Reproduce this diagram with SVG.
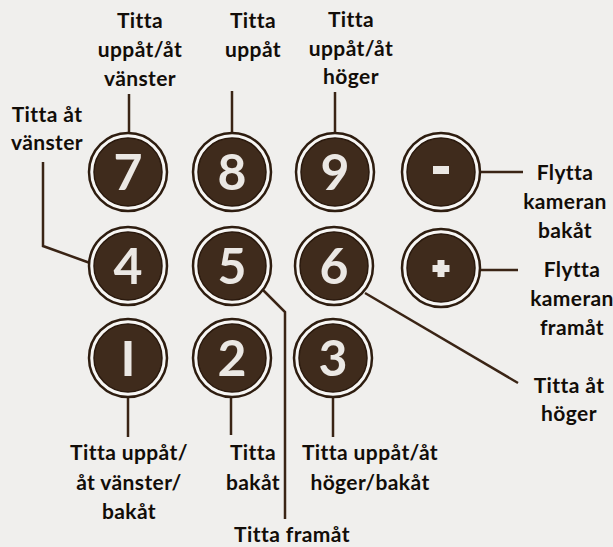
<svg xmlns="http://www.w3.org/2000/svg" width="613" height="547" viewBox="0 0 613 547">
<defs>
<style>
.bg{fill:#f0efed}
.ring{fill:#f7f6f4;stroke:#2e1d10;stroke-width:2.5}
.core{fill:#3f2b1c;stroke:#2a190d;stroke-width:1.5}
.dig{font-family:Lato,"Open Sans",sans-serif;font-weight:bold;font-size:50px;fill:#ebe8e4;text-anchor:middle}
.lbl{font-family:Lato,"Noto Sans",sans-serif;font-weight:bold;font-size:21px;fill:#120d08;text-anchor:middle;letter-spacing:0.4px}
.con{fill:none;stroke:#3a2415;stroke-width:2.5}
.sym{fill:#ebe8e4}
</style>
</defs>
<rect class="bg" x="0" y="0" width="613" height="547"/>
<g id="connectors">
<line class="con" x1="129" y1="94" x2="129" y2="133"/>
<line class="con" x1="232" y1="91" x2="232" y2="133"/>
<line class="con" x1="335" y1="92" x2="335" y2="133"/>
<polyline class="con" points="43,162 43,246 90,263"/>
<polyline class="con" points="263,290 285,312 285,519"/>
<line class="con" x1="365" y1="293" x2="518" y2="383"/>
<line class="con" x1="480" y1="172" x2="523" y2="172"/>
<line class="con" x1="480" y1="270" x2="518" y2="270"/>
<line class="con" x1="128" y1="397" x2="128" y2="437"/>
<line class="con" x1="231" y1="397" x2="231" y2="435"/>
<line class="con" x1="333" y1="397" x2="333" y2="437"/>
</g>
<g id="key7"><circle class="ring" cx="128" cy="172" r="39"/><circle class="core" cx="128" cy="172" r="34"/><text class="dig" x="128" y="190">7</text></g>
<g id="key8"><circle class="ring" cx="232" cy="172" r="39"/><circle class="core" cx="232" cy="172" r="34"/><text class="dig" x="232" y="190">8</text></g>
<g id="key9"><circle class="ring" cx="335" cy="172" r="39"/><circle class="core" cx="335" cy="172" r="34"/><text class="dig" x="335" y="190">9</text></g>
<g id="keyMinus"><circle class="ring" cx="441" cy="172" r="39"/><circle class="core" cx="441" cy="172" r="34"/><rect class="sym" x="433" y="166" width="16" height="8"/></g>
<g id="key4"><circle class="ring" cx="128" cy="266" r="39"/><circle class="core" cx="128" cy="266" r="34"/><text class="dig" x="128" y="284">4</text></g>
<g id="key5"><circle class="ring" cx="232" cy="266" r="39"/><circle class="core" cx="232" cy="266" r="34"/><text class="dig" x="232" y="284">5</text></g>
<g id="key6"><circle class="ring" cx="334" cy="266" r="39"/><circle class="core" cx="334" cy="266" r="34"/><text class="dig" x="334" y="284">6</text></g>
<g id="keyPlus"><circle class="ring" cx="441" cy="268" r="39"/><circle class="core" cx="441" cy="268" r="34"/><path class="sym" d="M437.5 260h7v5h5v7h-5v5h-7v-5h-5v-7h5z"/></g>
<g id="key1"><circle class="ring" cx="128" cy="358" r="39"/><circle class="core" cx="128" cy="358" r="34"/><rect class="sym" x="124.5" y="341" width="7" height="35"/></g>
<g id="key2"><circle class="ring" cx="232" cy="358" r="39"/><circle class="core" cx="232" cy="358" r="34"/><text class="dig" x="232" y="376">2</text></g>
<g id="key3"><circle class="ring" cx="333" cy="358" r="39"/><circle class="core" cx="333" cy="358" r="34"/><text class="dig" x="333" y="376">3</text></g>
<g id="labels">
<text class="lbl" x="140" y="28">Titta</text>
<text class="lbl" x="140" y="57">uppåt/åt</text>
<text class="lbl" x="140" y="86">vänster</text>
<text class="lbl" x="253" y="28">Titta</text>
<text class="lbl" x="253" y="57">uppåt</text>
<text class="lbl" x="351" y="27">Titta</text>
<text class="lbl" x="351" y="56">uppåt/åt</text>
<text class="lbl" x="351" y="84">höger</text>
<text class="lbl" x="47" y="122">Titta åt</text>
<text class="lbl" x="47" y="150">vänster</text>
<text class="lbl" x="565" y="180">Flytta</text>
<text class="lbl" x="565" y="209">kameran</text>
<text class="lbl" x="565" y="238">bakåt</text>
<text class="lbl" x="572" y="277">Flytta</text>
<text class="lbl" x="572" y="306">kameran</text>
<text class="lbl" x="572" y="335">framåt</text>
<text class="lbl" x="569" y="393">Titta åt</text>
<text class="lbl" x="569" y="421">höger</text>
<text class="lbl" x="129" y="460">Titta uppåt/</text>
<text class="lbl" x="129" y="490">åt vänster/</text>
<text class="lbl" x="129" y="519">bakåt</text>
<text class="lbl" x="253" y="460">Titta</text>
<text class="lbl" x="253" y="490">bakåt</text>
<text class="lbl" x="370" y="460">Titta uppåt/åt</text>
<text class="lbl" x="370" y="490">höger/bakåt</text>
<text class="lbl" x="292" y="542">Titta framåt</text>
</g>
</svg>
